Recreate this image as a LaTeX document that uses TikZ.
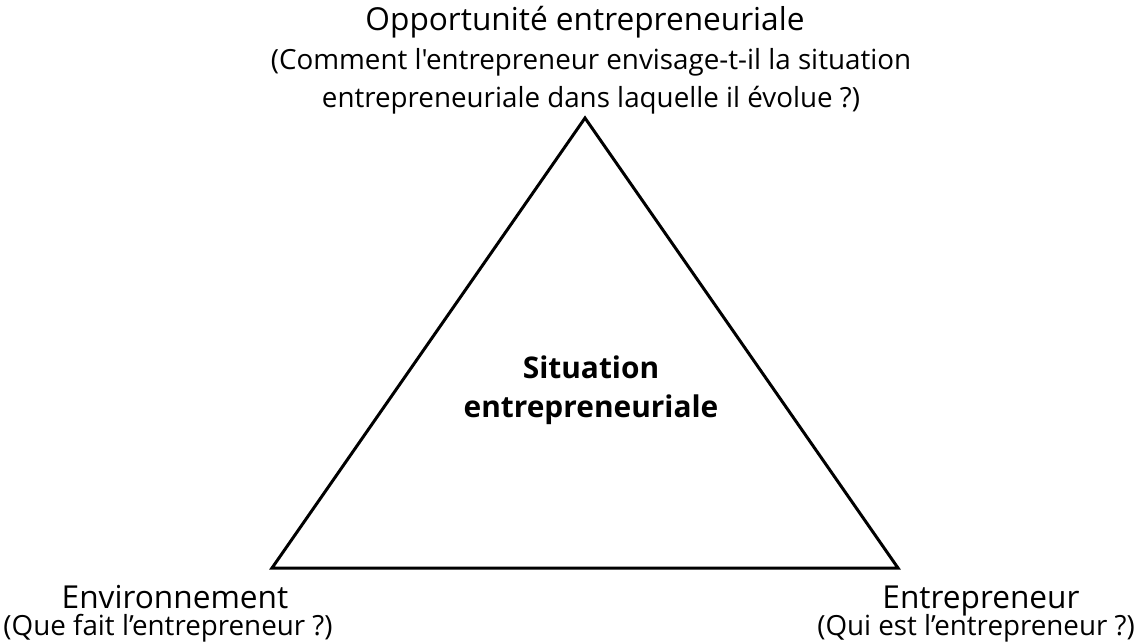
\documentclass[tikz,border=0pt]{standalone}
\usepackage{fontspec}
\setmainfont{Open Sans}[Ligatures=TeXOff]
\begin{document}
\begin{tikzpicture}[x=0.02cm,y=-0.02cm,
  lbl/.style={inner sep=0pt,align=center,font=\fontsize{15.8}{21.5}\selectfont},
  ttl/.style={inner sep=0pt,font=\fontsize{18}{21.5}\selectfont},
  side/.style={line width=1.7pt,line join=miter}]
\useasboundingbox (0,0) rectangle (1145,643);
\coordinate (T) at (585,118);
\coordinate (L) at (272,568);
\coordinate (R) at (898,568);
\draw[side] (T) -- (L) -- (R) -- cycle;
\node[ttl] (top) at (585,22) {Opportunité entrepreneuriale};
\node[lbl] (topq) at (591,81) {(Comment l'entrepreneur envisage-t-il la situation\\entrepreneuriale dans laquelle il évolue ?)};
\node[ttl,anchor=base] (env) at (175,608) {Environnement};
\node[lbl,anchor=base] (envq) at (168,635) {(Que fait l’entrepreneur ?)};
\node[ttl,anchor=base] (ent) at (981,608) {Entrepreneur};
\node[lbl,anchor=base] (entq) at (976,635) {(Qui est l’entrepreneur ?)};
\node[lbl,font=\bfseries\fontsize{17}{22}\selectfont] (mid) at (591,390) {Situation\\entrepreneuriale};
\end{tikzpicture}
\end{document}
